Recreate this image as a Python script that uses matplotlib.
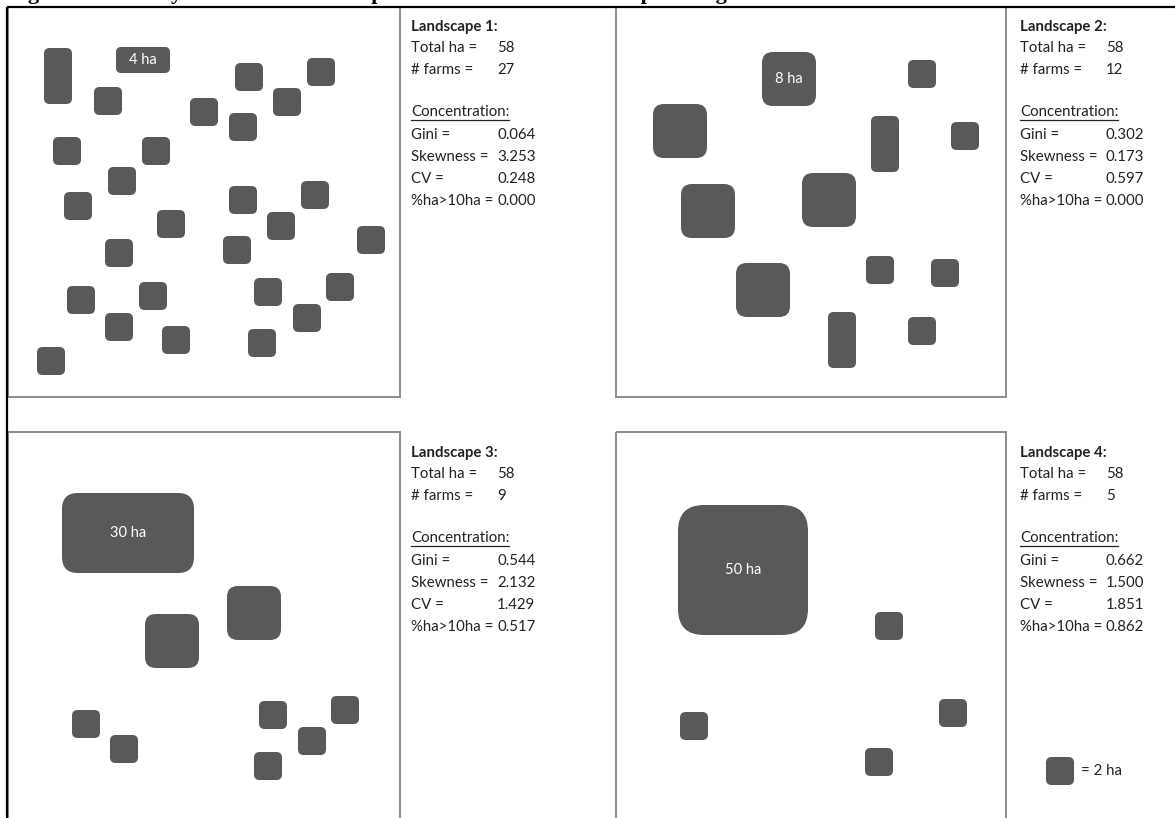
import matplotlib
matplotlib.use("Agg")
import matplotlib.pyplot as plt
from matplotlib.patches import FancyBboxPatch, Rectangle

# panels: left, top, width, height (pixels)
panel_boxes = [(8, 7, 392, 390), (616, 7, 390, 390), (8, 432, 392, 400), (616, 432, 390, 400)]
text_origin = [(411, 27), (1020, 27), (411, 453), (1020, 453)]

# farms: centre x, centre y, width, height, label
farms_1 = [
    (58, 76, 28, 56, ""), (143, 60, 54, 26, "4 ha"), (108, 101, 28, 28, ""),
    (249, 77, 28, 28, ""), (321, 72, 28, 28, ""), (287, 102, 28, 28, ""),
    (204, 112, 28, 28, ""), (243, 127, 28, 28, ""), (67, 151, 28, 28, ""),
    (156, 151, 28, 28, ""), (122, 181, 28, 28, ""), (78, 206, 28, 28, ""),
    (243, 200, 28, 28, ""), (315, 195, 28, 28, ""), (171, 224, 28, 28, ""),
    (281, 226, 28, 28, ""), (371, 240, 28, 28, ""), (119, 253, 28, 28, ""),
    (237, 250, 28, 28, ""), (81, 300, 28, 28, ""), (153, 296, 28, 28, ""),
    (268, 292, 28, 28, ""), (340, 287, 28, 28, ""), (119, 327, 28, 28, ""),
    (307, 318, 28, 28, ""), (176, 340, 28, 28, ""), (262, 343, 28, 28, ""),
    (51, 361, 28, 28, ""),
]
farms_2 = [
    (789, 79, 54, 54, "8 ha"), (922, 74, 28, 28, ""), (680, 131, 54, 54, ""),
    (885, 144, 28, 56, ""), (965, 136, 28, 28, ""), (708, 211, 54, 54, ""),
    (829, 200, 54, 54, ""), (763, 290, 54, 54, ""), (880, 270, 28, 28, ""),
    (945, 273, 28, 28, ""), (842, 340, 28, 56, ""), (922, 331, 28, 28, ""),
]
farms_3 = [
    (128, 533, 132, 80, "30 ha"), (254, 613, 54, 54, ""), (172, 641, 54, 54, ""),
    (86, 724, 28, 28, ""), (124, 749, 28, 28, ""), (273, 715, 28, 28, ""),
    (345, 710, 28, 28, ""), (312, 741, 28, 28, ""), (268, 766, 28, 28, ""),
]
farms_4 = [
    (743, 570, 130, 130, "50 ha"), (889, 626, 28, 28, ""), (694, 726, 28, 28, ""),
    (953, 713, 28, 28, ""), (879, 762, 28, 28, ""),
]
all_farms = [farms_1, farms_2, farms_3, farms_4]

total_ha = [58, 58, 58, 58]
n_farms = [27, 12, 9, 5]
gini = ["0.064", "0.302", "0.544", "0.662"]
skewness = ["3.253", "0.173", "2.132", "1.500"]
cv = ["0.248", "0.597", "1.429", "1.851"]
pct_big = ["0.000", "0.000", "0.517", "0.862"]

title = "Figure 3. Four Stylized Farm Landscapes with Different Ownership Among Farms"

farm_color = "#595959"
txt_color = "#222222"
font = "Lato"
fs = 10.8
# vertical offsets of the text lines below each heading
row_dy = [0, 21, 43, 85, 108, 130, 152, 174]

fig = plt.figure(figsize=(11.75, 8.18), dpi=100)
ax = fig.add_axes([0, 0, 1, 1])
ax.set_xlim(0, 1175)
ax.set_ylim(818, 0)
ax.axis("off")

# table lines
ax.plot([7, 1175], [7, 7], color="black", lw=1.6, solid_capstyle="butt")
ax.plot([7, 7], [7, 818], color="black", lw=1.6, solid_capstyle="butt")

for (l, t, w, h) in panel_boxes:
    ax.add_patch(Rectangle((l, t), w, h, fill=False, ec="#8c8c8c", lw=1.4))

for farms in all_farms:
    for (cx, cy, w, h, lab) in farms:
        r = min(w, h) * 0.2
        ax.add_patch(FancyBboxPatch((cx - w / 2, cy - h / 2), w, h,
                                    boxstyle=f"round,pad=0,rounding_size={r}",
                                    fc=farm_color, ec="none"))
        if lab:
            ax.text(cx, cy, lab, color="white", fontsize=10.5, family=font,
                    ha="center", va="center")

fig.canvas.draw()
renderer = fig.canvas.get_renderer()

for i, (tx, ty) in enumerate(text_origin):
    vx = tx + 86
    ax.text(tx, ty + row_dy[0], f"Landscape {i + 1}:", fontsize=fs, family=font, weight="bold",
            color=txt_color, va="center")
    ax.text(tx, ty + row_dy[1], "Total ha =", fontsize=fs, family=font, color=txt_color, va="center")
    ax.text(vx, ty + row_dy[1], str(total_ha[i]), fontsize=fs, family=font, color=txt_color, va="center")
    ax.text(tx, ty + row_dy[2], "# farms =", fontsize=fs, family=font, color=txt_color, va="center")
    ax.text(vx, ty + row_dy[2], str(n_farms[i]), fontsize=fs, family=font, color=txt_color, va="center")
    conc = ax.text(tx, ty + row_dy[3], "Concentration:", fontsize=fs, family=font,
                   color=txt_color, va="center")
    bb = conc.get_window_extent(renderer)
    ax.plot([tx, tx + bb.width], [ty + row_dy[3] + 8, ty + row_dy[3] + 8],
            color=txt_color, lw=0.9)
    rows = [("Gini =", gini[i]), ("Skewness =", skewness[i]), ("CV =", cv[i]),
            ("%ha>10ha =", pct_big[i])]
    for k, (lab, val) in enumerate(rows):
        yy = ty + row_dy[4 + k]
        ax.text(tx, yy, lab, fontsize=fs, family=font, color=txt_color, va="center")
        ax.text(vx, yy, val, fontsize=fs, family=font, color=txt_color, va="center")

# legend square
ax.add_patch(FancyBboxPatch((1046, 757), 28, 28, boxstyle="round,pad=0,rounding_size=5.6",
                            fc=farm_color, ec="none"))
ax.text(1081, 771, "= 2 ha", fontsize=fs, family=font, color=txt_color, va="center")

# caption cut off at the top of the page (only descenders visible)
ax.text(8, -1.5, title, fontsize=16, family="Liberation Serif", weight="bold",
        color="black", va="baseline", ha="left")

fig.savefig("out.png", dpi=100)
